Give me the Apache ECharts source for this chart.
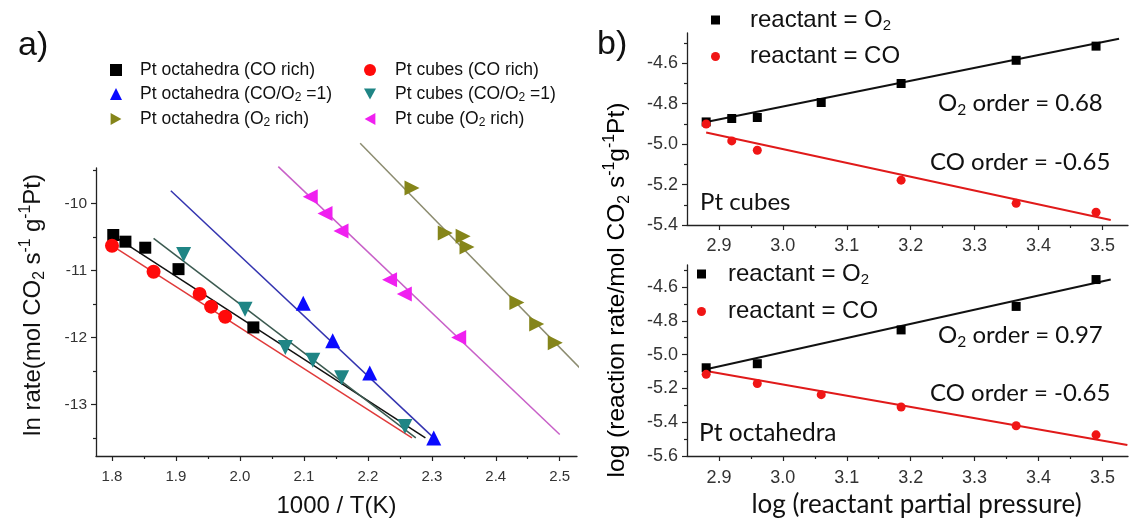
<!DOCTYPE html>
<html>
<head>
<meta charset="utf-8">
<script src="https://cdn.jsdelivr.net/npm/echarts@6/dist/echarts.min.js"></script>
<style>
  html, body { margin: 0; background: #fff; }
  #main { width: 1132px; height: 519px; }
</style>
</head>
<body>
<div id="main"></div>
<script>
// ---- a) ln rate vs 1000/T ----
const octaCoRich = [[1.802, -10.47], [1.821, -10.57], [1.852, -10.66], [1.904, -10.98], [2.021, -11.85]];
const cubesCoRich = [[1.800, -10.63], [1.865, -11.02], [1.937, -11.35], [1.955, -11.54], [1.977, -11.69]];
const octaEqual = [[2.099, -11.49], [2.145, -12.05], [2.203, -12.53], [2.303, -13.50]];
const cubesEqual = [[1.912, -10.76], [2.008, -11.58], [2.071, -12.15], [2.114, -12.34], [2.159, -12.60], [2.258, -13.33]];
const octaO2Rich = [[2.269, -9.77], [2.321, -10.44], [2.349, -10.49], [2.355, -10.65], [2.433, -11.48], [2.464, -11.80], [2.493, -12.08]];
const cubeO2Rich = [[2.110, -9.90], [2.133, -10.15], [2.158, -10.41], [2.234, -11.14], [2.257, -11.35], [2.342, -12.00]];

// fitted lines (end points)
const fitOctaCoRich = [[1.800, -10.47], [2.290, -13.50]];
const fitCubesCoRich = [[1.800, -10.63], [2.269, -13.50]];
const fitOctaEqual = [[1.892, -9.81], [2.303, -13.50]];
const fitCubesEqual = [[1.865, -10.52], [2.275, -13.50]];
const fitOctaO2Rich = [[2.188, -9.10], [2.537, -12.51]];
const fitCubeO2Rich = [[2.060, -9.45], [2.500, -13.45]];

const aXTicks = [1.8, 1.9, 2.0, 2.1, 2.2, 2.3, 2.4, 2.5];
const aXMinor = [1.85, 1.95, 2.05, 2.15, 2.25, 2.35, 2.45];
const aYTicks = [-13, -12, -11, -10];
const aYMinor = [-13.5, -12.5, -11.5, -10.5, -9.5];

// ---- b) log rate vs log partial pressure ----
const cubesO2P = [2.88, 2.92, 2.96, 3.06, 3.185, 3.365, 3.49];
const cubesO2Rate = [-4.89, -4.873, -4.868, -4.794, -4.70, -4.585, -4.515];
const cubesCoP = [2.88, 2.92, 2.96, 3.185, 3.365, 3.49];
const cubesCoRate = [-4.90, -4.984, -5.03, -5.178, -5.293, -5.337];
const fitCubesO2 = [[2.88, -4.89], [3.526, -4.478]];
const fitCubesCo = [[2.88, -4.942], [3.513, -5.375]];

const octaO2P = [2.88, 2.96, 3.185, 3.365, 3.49];
const octaO2Rate = [-5.078, -5.054, -4.854, -4.715, -4.556];
const octaCoP = [2.88, 2.96, 3.06, 3.185, 3.365, 3.49];
const octaCoRate = [-5.117, -5.171, -5.237, -5.31, -5.421, -5.475];
const fitOctaO2 = [[2.88, -5.087], [3.513, -4.556]];
const fitOctaCo = [[2.88, -5.097], [3.539, -5.535]];

const bXTicks = [2.9, 3.0, 3.1, 3.2, 3.3, 3.4, 3.5];
const bXMinor = [2.95, 3.05, 3.15, 3.25, 3.35, 3.45];
const bYTicksTop = [-5.4, -5.2, -5.0, -4.8, -4.6];
const bYMinorTop = [-5.3, -5.1, -4.9, -4.7, -4.5];
const bYTicksBottom = [-5.6, -5.4, -5.2, -5.0, -4.8, -4.6];
const bYMinorBottom = [-5.5, -5.3, -5.1, -4.9, -4.7, -4.5];

const AXIS_COLOR = '#222';
const ARIAL = 'Liberation Sans, Arial, sans-serif';
const CALIBRI = 'Lato, sans-serif';

const zip = (xs, ys) => xs.map((x, i) => [x, ys[i]]);

function majorAxis(gridIndex, min, max, ticks, digits, size, margin) {
  return {
    type: 'value', gridIndex, min, max,
    axisLine: { show: true, onZero: false, lineStyle: { color: AXIS_COLOR, width: 1.3 } },
    axisTick: { show: true, length: 5, customValues: ticks, lineStyle: { color: AXIS_COLOR, width: 1.2 } },
    axisLabel: {
      show: true, customValues: ticks, margin, fontSize: size, fontFamily: ARIAL, color: '#333',
      formatter: v => Number(v).toFixed(digits)
    },
    splitLine: { show: false }
  };
}
function minorAxis(gridIndex, min, max, ticks, position) {
  return {
    type: 'value', gridIndex, min, max, position,
    axisLine: { show: false, onZero: false },
    axisTick: { show: true, length: 3, customValues: ticks, lineStyle: { color: AXIS_COLOR, width: 1.2 } },
    axisLabel: { show: false },
    splitLine: { show: false }
  };
}
function dots(name, data, symbol, size, color, ai) {
  return { type: 'scatter', name, data, symbol, symbolSize: size, itemStyle: { color, opacity: 1 },
    xAxisIndex: ai, yAxisIndex: ai, z: 3, silent: true };
}
function fit(data, color, width, ai) {
  return { type: 'line', data, symbol: 'none', lineStyle: { color, width }, xAxisIndex: ai, yAxisIndex: ai,
    clip: false, z: 2, silent: true };
}

const TRI_DOWN = 'path://M0,0L10,0L5,9Z';
const TRI_RIGHT = 'path://M0,0L9,5L0,10Z';
const TRI_LEFT = 'path://M9,0L0,5L9,10Z';

// legend text, with a small "2" after O
const withSub = name => '{p| }' + name.split('O2').map(s => '{t|' + s + '}').join('{t|O}{s|2}');

const legendA = (left, names, pad) => ({
  left, top: 61, orient: 'vertical', padding: 0, itemGap: 6, itemWidth: 12, itemHeight: 12,
  selectedMode: false, data: names, formatter: withSub,
  textStyle: {
    rich: {
      p: { width: pad },
      t: { fontSize: 17.5, fontFamily: ARIAL, color: '#111', lineHeight: 20 },
      s: { fontSize: 12, fontFamily: ARIAL, color: '#111', lineHeight: 13, verticalAlign: 'bottom' }
    }
  }
});
const legendB = (left, top, gap, pad) => ({
  left, top, orient: 'vertical', padding: 0, itemGap: gap, itemWidth: 9, itemHeight: 9,
  selectedMode: false, data: ['reactant = O2', 'reactant = CO'], formatter: withSub,
  textStyle: {
    rich: {
      p: { width: pad },
      t: { fontSize: 24, fontFamily: ARIAL, color: '#111', lineHeight: 27 },
      s: { fontSize: 15, fontFamily: ARIAL, color: '#111', lineHeight: 15, verticalAlign: 'bottom' }
    }
  }
});

const richSubSup = (size, fam) => ({
  t: { fontSize: size, fontFamily: fam, color: '#111', lineHeight: size + 6 },
  sub: { fontSize: size * 0.65, fontFamily: fam, color: '#111', lineHeight: size * 0.7, verticalAlign: 'bottom' },
  sup: { fontSize: size * 0.65, fontFamily: fam, color: '#111', lineHeight: size * 0.7, verticalAlign: 'top' }
});

function note(x, y, text, size) {
  return { type: 'text', x, y, silent: true,
    style: { text, rich: richSubSup(size, CALIBRI), fontSize: size, fontFamily: CALIBRI, fill: '#111',
      align: 'left', verticalAlign: 'middle' } };
}

const chart = echarts.init(document.getElementById('main'));
const option = {
  animation: false,
  backgroundColor: '#fff',
  grid: [
    { left: 96, top: 168, width: 481, height: 288, outerBoundsMode: 'none' },
    { left: 687, top: 33, width: 441, height: 192, outerBoundsMode: 'none' },
    { left: 687, top: 265, width: 441, height: 191, outerBoundsMode: 'none' }
  ],
  xAxis: [
    Object.assign(majorAxis(0, 1.775, 2.527, aXTicks, 1, 15, 13), {
      name: '1000 / T(K)', nameLocation: 'middle', nameGap: 38,
      nameTextStyle: { fontSize: 24, fontFamily: ARIAL, color: '#111' }
    }),
    majorAxis(1, 2.85, 3.54, bXTicks, 1, 18, 12),
    Object.assign(majorAxis(2, 2.85, 3.54, bXTicks, 1, 18, 13), {
      name: 'log (reactant partial pressure)', nameLocation: 'middle', nameGap: 36,
      nameTextStyle: { fontSize: 26, fontFamily: CALIBRI, color: '#111', padding: [0, 0, 0, 18] }
    }),
    minorAxis(0, 1.775, 2.527, aXMinor, 'bottom'),
    minorAxis(1, 2.85, 3.54, bXMinor, 'bottom'),
    minorAxis(2, 2.85, 3.54, bXMinor, 'bottom')
  ],
  yAxis: [
    Object.assign(majorAxis(0, -13.77, -9.47, aYTicks, 0, 15.5, 9), {
      name: '{t|ln rate(mol CO}{sub|2}{t| s}{sup|-1}{t| g}{sup|-1}{t|Pt)}',
      nameLocation: 'middle', nameGap: 48,
      nameTextStyle: { rich: richSubSup(24, ARIAL), padding: [0, 0, 0, 14] }
    }),
    majorAxis(1, -5.4, -4.45, bYTicksTop, 1, 18, 9),
    majorAxis(2, -5.6, -4.47, bYTicksBottom, 1, 18, 9),
    minorAxis(0, -13.77, -9.47, aYMinor, 'left'),
    minorAxis(1, -5.4, -4.45, bYMinorTop, 'left'),
    minorAxis(2, -5.6, -4.47, bYMinorBottom, 'left')
  ],
  legend: [
    legendA(110, ['Pt octahedra (CO rich)', 'Pt octahedra (CO/O2 =1)', 'Pt octahedra (O2 rich)'], 13),
    legendA(364, ['Pt cubes (CO rich)', 'Pt cubes (CO/O2 =1)', 'Pt cube (O2 rich)'], 14),
    legendB(711, 8, 11, 25),
    legendB(697, 262, 12, 17)
  ],
  graphic: [
    { type: 'text', x: 18, y: 46, silent: true,
      style: { text: 'a)', fontSize: 34, fontFamily: ARIAL, fill: '#111', verticalAlign: 'middle' } },
    { type: 'text', x: 597, y: 45, silent: true,
      style: { text: 'b)', fontSize: 34, fontFamily: ARIAL, fill: '#111', verticalAlign: 'middle' } },
    { type: 'text', x: 617, y: 290, rotation: Math.PI / 2, silent: true,
      style: { text: '{t|log (reaction rate/mol CO}{sub|2}{t| s}{sup|-1}{t|g}{sup|-1}{t|Pt)}',
        rich: richSubSup(24.5, ARIAL), align: 'center', verticalAlign: 'middle' } },
    note(938, 103, '{t|O}{sub|2}{t| order = 0.68}', 24),
    note(930, 162, '{t|CO order = -0.65}', 24),
    note(700, 202, '{t|Pt cubes}', 24),
    note(938, 335, '{t|O}{sub|2}{t| order = 0.97}', 24),
    note(930, 393, '{t|CO order = -0.65}', 24),
    note(699, 433, '{t|Pt octahedra}', 24.5)
  ],
  series: [
    fit(fitCubesCoRich, '#e03a3a', 1.5, 0),
    fit(fitOctaCoRich, '#111111', 1.5, 0),
    fit(fitCubesEqual, '#3b5a50', 1.5, 0),
    fit(fitOctaEqual, '#3434b0', 1.5, 0),
    fit(fitCubeO2Rich, '#c860c8', 1.5, 0),
    fit(fitOctaO2Rich, '#8c8c70', 1.5, 0),
    dots('Pt octahedra (CO rich)', octaCoRich, 'rect', 12, '#000000', 0),
    dots('Pt cubes (CO rich)', cubesCoRich, 'circle', 14, '#ff0a0a', 0),
    dots('Pt octahedra (CO/O2 =1)', octaEqual, 'triangle', 15, '#0a0aff', 0),
    dots('Pt cubes (CO/O2 =1)', cubesEqual, TRI_DOWN, 15, '#1f8585', 0),
    dots('Pt octahedra (O2 rich)', octaO2Rich, TRI_RIGHT, 15, '#85851a', 0),
    dots('Pt cube (O2 rich)', cubeO2Rich, TRI_LEFT, 15, '#f020f0', 0),

    fit(fitCubesO2, '#111111', 2, 1),
    fit(fitCubesCo, '#e01a1a', 2, 1),
    dots('reactant = O2', zip(cubesO2P, cubesO2Rate), 'rect', 9, '#000000', 1),
    dots('reactant = CO', zip(cubesCoP, cubesCoRate), 'circle', 9, '#f01515', 1),

    fit(fitOctaO2, '#111111', 2, 2),
    fit(fitOctaCo, '#e01a1a', 2, 2),
    dots('reactant = O2', zip(octaO2P, octaO2Rate), 'rect', 9, '#000000', 2),
    dots('reactant = CO', zip(octaCoP, octaCoRate), 'circle', 9, '#f01515', 2)
  ]
};
chart.setOption(option);
</script>
</body>
</html>
